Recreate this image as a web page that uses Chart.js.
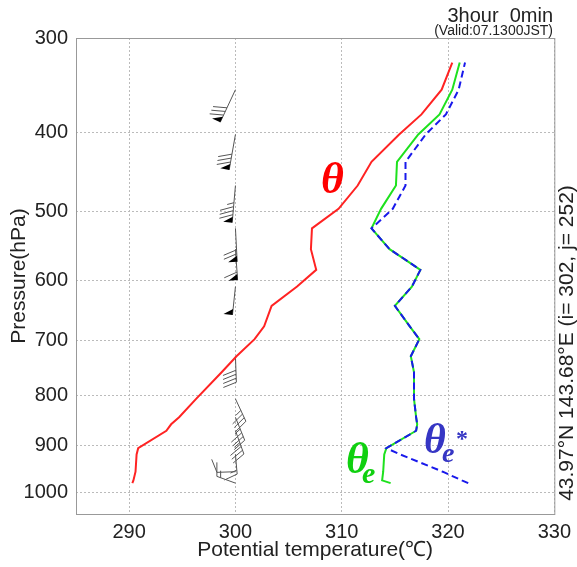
<!DOCTYPE html>
<html>
<head>
<meta charset="utf-8">
<script src="https://cdn.jsdelivr.net/npm/chart.js@4.4.1/dist/chart.umd.min.js"></script>
<style>
  html, body { margin: 0; padding: 0; background: #fff; }
</style>
</head>
<body>
<canvas id="sounding" width="577" height="567"></canvas>
<script>
// vertical axis is p^kappa (Exner-like), like the original plot
const KAPPA = 0.286;

// model levels, bottom to top (hPa)
const pressures = [980, 974, 955, 918, 905, 869, 856, 842, 806, 756, 727, 697, 675,
                   641, 610, 584, 553, 523, 496, 465, 435, 402, 379, 352, 324];
const theta   = [290.3, 290.4, 290.6, 290.7, 290.85, 293.5, 293.95, 294.7, 296.3, 298.7, 300.1, 301.8, 302.7,
                 303.4, 305.8, 307.6, 307.1, 307.2, 309.7, 311.5, 312.8, 315.4, 317.5, 319.4, 320.4];
const thetaE  = [314.6, 313.8, 313.9, 314.0, 314.2, 317.0, 317.1, 317.0, 316.8, 316.8, 316.5, 317.3, 316.4,
                 315.0, 316.6, 317.4, 314.5, 312.8, 313.7, 315.1, 315.2, 317.2, 319.2, 320.4, 321.1];
const thetaES = [321.9, 321.3, 319.5, 315.5, 314.2, 317.0, 317.1, 317.0, 316.8, 316.8, 316.5, 317.3, 316.4,
                 315.0, 316.6, 317.4, 314.5, 312.8, 314.8, 316.0, 316.0, 317.9, 319.8, 321.0, 321.6];
// wind barbs (direction deg, speed); null = not drawn
const windDir = [290, null, 268, 175, null, 160, null, 158, 155, null, 178, null, null,
                 null, 186, null, 176, 177, null, 185, null, 190, null, 205, null];
const windSpd = [15, null, 10, 15, null, 35, null, 35, 35, null, 40, null, null,
                 null, 50, null, 60, 70, null, 85, null, 80, null, 80, null];
const barbTemp = 300;

const pressureTicks = [300, 400, 500, 600, 700, 800, 900, 1000];
const tempTicks = [290, 300, 310, 320, 330];

const toY = p => Math.pow(p, KAPPA);
const fromY = v => Math.pow(v, 1 / KAPPA);
const pts = vals => vals.map((v, i) => ({ x: v, y: toY(pressures[i]) }));

const SANS = '"Liberation Sans", Arial, sans-serif';
Chart.defaults.font.family = SANS;

function drawBarb(ctx, x0, y0, dir, spd) {
  const len = 16 + spd * 0.25;
  const r = dir * Math.PI / 180;
  const ux = Math.sin(r), uy = -Math.cos(r);
  const px = -uy, py = ux;
  const a = 70 * Math.PI / 180;
  const fx = Math.cos(a) * ux + Math.sin(a) * px;
  const fy = Math.cos(a) * uy + Math.sin(a) * py;
  ctx.strokeStyle = '#555';
  ctx.lineWidth = 1;
  ctx.beginPath();
  ctx.moveTo(x0, y0);
  ctx.lineTo(x0 + ux * len, y0 + uy * len);
  ctx.stroke();
  let rest = Math.round(spd / 5) * 5;
  let s = len;
  while (rest >= 50) {
    const ox = x0 + ux * s, oy = y0 + uy * s;
    ctx.fillStyle = '#000';
    ctx.beginPath();
    ctx.moveTo(ox, oy);
    ctx.lineTo(x0 + ux * (s - 6), y0 + uy * (s - 6));
    ctx.lineTo(ox + px * 9, oy + py * 9);
    ctx.closePath();
    ctx.fill();
    s -= 8;
    rest -= 50;
  }
  while (rest >= 5) {
    const fl = rest >= 10 ? 14 : 7;
    const bx = x0 + ux * s, by = y0 + uy * s;
    ctx.beginPath();
    ctx.moveTo(bx, by);
    ctx.lineTo(bx + fx * fl, by + fy * fl);
    ctx.stroke();
    rest -= rest >= 10 ? 10 : 5;
    s -= 4;
  }
}

const extras = {
  id: 'extras',
  beforeDatasetsDraw(chart) {
    const { ctx, scales } = chart;
    ctx.save();
    pressures.forEach((p, i) => {
      if (windDir[i] == null) return;
      drawBarb(ctx, scales.x.getPixelForValue(barbTemp), scales.y.getPixelForValue(toY(p)),
               windDir[i], windSpd[i]);
    });
    ctx.restore();
  },
  afterDraw(chart) {
    const { ctx, chartArea: a } = chart;
    ctx.save();
    ctx.strokeStyle = '#999';
    ctx.lineWidth = 1;
    ctx.strokeRect(a.left + 0.5, a.top + 0.5, a.right - a.left, a.bottom - a.top);

    ctx.fillStyle = '#222';
    ctx.textAlign = 'center';
    ctx.textBaseline = 'middle';
    ctx.font = '21px ' + SANS;
    ctx.fillText('Potential temperature(\u2103)', (a.left + a.right) / 2, 550);
    ctx.save();
    ctx.translate(19, (a.top + a.bottom) / 2);
    ctx.rotate(-Math.PI / 2);
    ctx.fillText('Pressure(hPa)', 0, 0);
    ctx.restore();
    ctx.save();
    ctx.translate(567, 343);
    ctx.rotate(-Math.PI / 2);
    ctx.font = '21px ' + SANS;
    ctx.fillText('43.97\u00b0N 143.68\u00b0E (i= 302, j= 252)', 0, 0);
    ctx.restore();

    ctx.textAlign = 'right';
    ctx.font = '20px ' + SANS;
    ctx.fillText('3hour  0min', 553, 16);
    ctx.font = '14px ' + SANS;
    ctx.fillText('(Valid:07.1300JST)', 553, 31);

    // curve labels
    const SERIF = '"Liberation Serif", "DejaVu Serif", serif';
    ctx.textAlign = 'left';
    ctx.textBaseline = 'alphabetic';
    ctx.font = 'italic bold 44px ' + SERIF;
    ctx.fillStyle = '#ff0000';
    ctx.fillText('\u03b8', 321, 193);
    ctx.fillStyle = '#10d010';
    ctx.fillText('\u03b8', 346, 473);
    ctx.font = 'italic bold 30px ' + SERIF;
    ctx.fillText('e', 362, 483);
    ctx.fillStyle = '#3636c4';
    ctx.font = 'italic bold 42px ' + SERIF;
    ctx.fillText('\u03b8', 424, 453);
    ctx.font = 'italic bold 28px ' + SERIF;
    ctx.fillText('e', 442, 462);
    ctx.font = 'bold 24px ' + SERIF;
    ctx.fillText('*', 456, 446);
    ctx.restore();
  }
};

new Chart(document.getElementById('sounding'), {
  type: 'line',
  data: {
    datasets: [
      { label: 'thetaES', data: pts(thetaES), borderColor: 'rgb(25,25,235)', borderWidth: 2,
        borderDash: [7, 4], order: 0 },
      { label: 'thetaE', data: pts(thetaE), borderColor: 'rgb(30,225,30)', borderWidth: 2, order: 1 },
      { label: 'theta', data: pts(theta), borderColor: 'rgb(255,35,35)', borderWidth: 2, order: 2 }
    ]
  },
  options: {
    responsive: false,
    animation: false,
    devicePixelRatio: 1,
    layout: { padding: { top: 38, right: 22, left: 0, bottom: 0 } },
    elements: { point: { radius: 0 }, line: { tension: 0 } },
    plugins: { legend: { display: false }, tooltip: { enabled: false } },
    scales: {
      x: {
        type: 'linear',
        min: 285,
        max: 330,
        afterBuildTicks: s => { s.ticks = tempTicks.map(v => ({ value: v })); },
        afterFit: s => { s.height = 53; },
        ticks: { color: '#222', font: { size: 20 }, padding: 6 },
        grid: { color: '#bbb', drawTicks: false },
        border: { display: false, dash: [2, 2] }
      },
      y: {
        type: 'linear',
        reverse: true,
        min: toY(300),
        max: toY(1050),
        afterBuildTicks: s => { s.ticks = pressureTicks.map(p => ({ value: toY(p) })); },
        afterFit: s => { s.width = 76; },
        ticks: { color: '#222', font: { size: 20 }, padding: 8,
                 callback: v => Math.round(fromY(v)) },
        grid: { color: '#bbb', drawTicks: false },
        border: { display: false, dash: [2, 2] }
      }
    }
  },
  plugins: [extras]
});
</script>
</body>
</html>
